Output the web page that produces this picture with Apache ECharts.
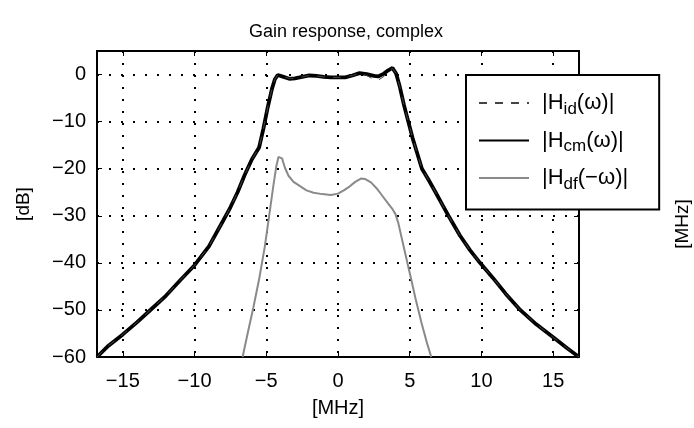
<!DOCTYPE html>
<html>
<head>
<meta charset="utf-8">
<title>Gain response, complex</title>
<script src="https://cdn.jsdelivr.net/npm/echarts@6/dist/echarts.min.js"></script>
<style>
  html, body { margin: 0; padding: 0; background: #fff; }
  #main { width: 694px; height: 428px; }
</style>
</head>
<body>
<div id="main"></div>
<script>
// frequency axis [MHz] for the |H_cm| / |H_id| traces
var freqCm = [-16.8, -16, -15, -14, -13, -12, -11, -10, -9, -8, -7.5, -7, -6.5, -6, -5.5, -5.2, -4.9, -4.6, -4.4, -4.2,
  -3.9, -3.4, -3, -2.5, -2, -1.5, -1, -0.5, 0, 0.5, 1, 1.5, 2, 2.5, 2.8, 3.2, 3.5, 3.8, 4.05, 4.3, 4.6, 4.9, 5.2, 5.5,
  5.85, 6.3, 6.8, 7.3, 7.7, 8.5, 9.2, 9.9, 10.8, 11.7, 12.7, 13.8, 15, 16, 16.8]
var gainCm = [-60, -57.6, -55.2, -52.6, -49.8, -47, -43.7, -40.5, -36.5, -31, -28.2, -25, -21.3, -18, -15.5, -11.5, -7, -3, -1, -0.1,
  -0.4, -0.9, -0.8, -0.5, -0.2, -0.3, -0.5, -0.6, -0.6, -0.6, -0.2, 0.3, 0.1, -0.3, -0.4, 0.2, 0.9, 1.4, 0.2, -2.5, -6.5, -10, -13.5, -16.5,
  -20, -22.3, -25, -27.8, -30, -34.2, -37.3, -40, -43.2, -46.6, -50, -53, -55.8, -58.2, -60]
var gainId = [-60, -57.6, -55.2, -52.6, -49.8, -47, -43.7, -40.5, -36.5, -31, -28.2, -25, -21.3, -18, -15.5, -11.5, -7, -3, -1, -0.1,
  -0.4, -0.8, -0.8, -0.5, -0.2, -0.3, -0.5, -0.6, -0.6, -0.5, -0.2, 0.2, -0.2, -1.1, -1.2, -0.4, 0.7, 1.3, 0.2, -2.5, -6.5, -10, -13.5, -16.5,
  -20, -22.3, -25, -27.8, -30, -34.2, -37.3, -40, -43.2, -46.6, -50, -53, -55.8, -58.2, -60]

// |H_df(-w)| trace
var freqDf = [-6.65, -6.3, -5.9, -5.5, -5.1, -4.8, -4.5, -4.3, -4.15, -4.05, -3.9, -3.7, -3.45, -3.1, -2.7, -2.2, -1.7, -1.1, -0.5, 0,
  0.4, 0.8, 1.2, 1.6, 1.9, 2.3, 2.7, 3.1, 3.5, 3.8, 4.0, 4.2, 4.5, 4.8, 5.1, 5.4, 5.8, 6.2, 6.5]
var gainDf = [-60, -55, -49.5, -43.5, -36.5, -30, -23.5, -19.5, -17.5, -17.1, -17.8, -19.8, -21.5, -22.8, -23.6, -24.6, -25.1, -25.4, -25.6, -25.3,
  -24.6, -23.8, -22.8, -22.1, -22.2, -22.9, -24.2, -25.8, -27.4, -28.6, -29.6, -31.5, -35.5, -39.5, -43.5, -47.5, -52.5, -57, -60]

var xTicks = [-15, -10, -5, 0, 5, 10, 15]
var legendText = {
  Hid: '|H{s|id}(ω)|',
  Hcm: '|H{s|cm}(ω)|',
  Hdf: '|H{s|df}(−ω)|'
}

function pairs (xs, ys) {
  var out = []
  for (var i = 0; i < xs.length; i++) {
    out.push([xs[i], ys[i]])
  }
  return out
}

function minus (v) {
  return v < 0 ? '−' + Math.abs(v) : String(v)
}

var font = 'Liberation Sans, Arial, sans-serif'
var dotted = { color: '#000', width: 2, type: [2, 10] }

var chart = echarts.init(document.getElementById('main'))
chart.setOption({
  animation: false,
  title: {
    text: 'Gain response, complex',
    left: 244,
    top: 18,
    textStyle: { fontFamily: font, fontSize: 18, fontWeight: 'normal', color: '#000' }
  },
  grid: { left: 97, right: 115, top: 51, bottom: 71, outerBoundsMode: 'none' },
  legend: {
    orient: 'vertical',
    left: 466,
    top: 75,
    padding: [17, 31, 17, 12],
    itemWidth: 50,
    itemHeight: 14,
    itemGap: 12,
    backgroundColor: '#fff',
    borderColor: '#000',
    borderWidth: 2,
    borderRadius: 0,
    data: ['Hid', 'Hcm', 'Hdf'],
    formatter: function (name) { return legendText[name] },
    itemStyle: { opacity: 0 },
    textStyle: {
      fontFamily: font,
      fontSize: 22,
      color: '#000',
      padding: [0, 0, 0, 8],
      rich: {
        s: { fontFamily: font, fontSize: 17, color: '#000', padding: [12, 0, 0, 0] }
      }
    }
  },
  xAxis: [{
    type: 'value',
    min: -16.8,
    max: 16.8,
    name: '[MHz]',
    nameLocation: 'middle',
    nameGap: 41,
    nameTextStyle: { fontFamily: font, fontSize: 20, color: '#000' },
    axisLine: { onZero: false, lineStyle: { color: '#000', width: 2 } },
    axisTick: { inside: true, length: 5, customValues: xTicks, lineStyle: { color: '#000' } },
    axisLabel: {
      fontFamily: font, fontSize: 20, color: '#000', margin: 14,
      customValues: xTicks,
      formatter: minus
    },
    splitLine: { show: true, lineStyle: dotted }
  }, {
    type: 'value',
    position: 'top',
    min: -16.8,
    max: 16.8,
    axisLine: { onZero: false, lineStyle: { color: '#000', width: 2 } },
    axisTick: { inside: true, length: 5, customValues: xTicks, lineStyle: { color: '#000' } },
    axisLabel: { show: false },
    splitLine: { show: false }
  }],
  yAxis: [{
    type: 'value',
    min: -60,
    max: 5,
    interval: 10,
    name: '[dB]',
    nameLocation: 'middle',
    nameGap: 64,
    nameTextStyle: { fontFamily: font, fontSize: 19, color: '#000' },
    axisLine: { onZero: false, lineStyle: { color: '#000', width: 2 } },
    axisTick: { inside: true, length: 5, lineStyle: { color: '#000' } },
    axisLabel: {
      fontFamily: font, fontSize: 20, color: '#000', margin: 11,
      showMaxLabel: false,
      formatter: minus
    },
    splitLine: { show: true, lineStyle: dotted }
  }, {
    type: 'value',
    position: 'right',
    min: -60,
    max: 5,
    interval: 10,
    name: '[MHz]',
    nameLocation: 'middle',
    nameGap: 94,
    nameRotate: 90,
    nameTextStyle: { fontFamily: font, fontSize: 19, color: '#000', padding: [0, 40, 0, 0] },
    axisLine: { onZero: false, lineStyle: { color: '#000', width: 2 } },
    axisTick: { inside: true, length: 5, lineStyle: { color: '#000' } },
    axisLabel: { show: false },
    splitLine: { show: false }
  }],
  series: [
    {
      name: 'Hdf',
      type: 'line',
      symbol: 'none',
      data: pairs(freqDf, gainDf),
      lineStyle: { color: '#8a8a8a', width: 2 },
      itemStyle: { color: '#8a8a8a' },
      z: 2
    },
    {
      name: 'Hcm',
      type: 'line',
      symbol: 'none',
      data: pairs(freqCm, gainCm),
      lineStyle: { color: '#000', width: 3.8 },
      itemStyle: { color: '#000' },
      z: 3
    },
    {
      name: 'Hid',
      type: 'line',
      symbol: 'none',
      data: pairs(freqCm, gainId),
      lineStyle: { color: '#444', width: 1, type: [8, 8] },
      itemStyle: { color: '#444' },
      z: 4
    }
  ]
})
</script>
</body>
</html>
